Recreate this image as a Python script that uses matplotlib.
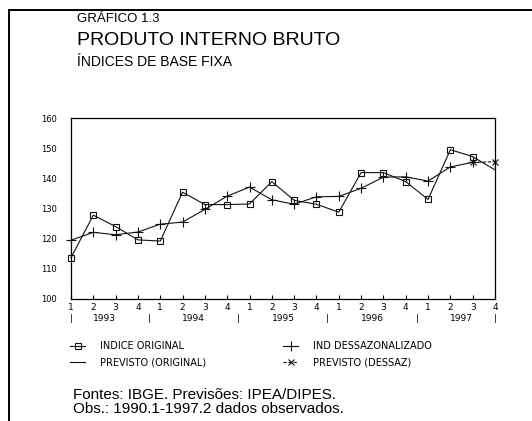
import matplotlib
matplotlib.use('Agg')
import matplotlib.pyplot as plt
from matplotlib.lines import Line2D
from matplotlib.transforms import blended_transform_factory
import numpy as np

# ---------------- data ----------------
quarter_labels = ['1', '2', '3', '4'] * 5
years = ['1993', '1994', '1995', '1996', '1997']
original = [113.7, 127.8, 124.0, 119.6, 119.2, 135.4, 131.3, 131.3, 131.5, 138.9,
            132.7, 131.4, 128.8, 141.9, 141.9, 138.9, 133.0, 149.5, 147.2]
dessaz = [119.5, 122.1, 121.3, 122.2, 124.8, 125.5, 129.7, 134.1, 137.1, 132.9,
          131.4, 133.9, 134.0, 136.7, 140.4, 140.5, 139.1, 143.8, 145.3]
prev_original = [147.2, 142.8]
prev_dessaz = [145.3, 145.5]
y_ticks = [100, 110, 120, 130, 140, 150, 160]
legend_labels = ['INDICE ORIGINAL', 'PREVISTO (ORIGINAL)',
                 'IND DESSAZONALIZADO', 'PREVISTO (DESSAZ)']

W, H = 532, 421
fig = plt.figure(figsize=(W / 100, H / 100), dpi=100)
fig.patch.set_facecolor('white')


def fx(px):
    return px / W


def fy(py):
    return 1 - py / H


# outer frame (left and top border)
fig.add_artist(Line2D([fx(9), fx(9)], [fy(10), 0], color='black', lw=1.4, transform=fig.transFigure))
fig.add_artist(Line2D([fx(9), 1], [fy(10), fy(10)], color='black', lw=1.4, transform=fig.transFigure))

# titles
title_font = ['Liberation Sans', 'DejaVu Sans']
fig.text(fx(77), fy(22), 'GRÁFICO 1.3', fontsize=9.5, family=title_font, va='baseline')
fig.text(fx(77), fy(45), 'PRODUTO INTERNO BRUTO', fontsize=14, family=title_font, va='baseline')
fig.text(fx(77), fy(66), 'ÍNDICES DE BASE FIXA', fontsize=10, family=title_font, va='baseline')
fig.text(fx(73), fy(399), 'Fontes: IBGE. Previsões: IPEA/DIPES.', fontsize=11, family=title_font, va='baseline')
fig.text(fx(73), fy(413), 'Obs.: 1990.1-1997.2 dados observados.', fontsize=11, family=title_font, va='baseline')

# axes
ax = fig.add_axes([fx(71), fy(299), fx(495) - fx(71), fy(118) - fy(299)])
n = len(quarter_labels)
x = np.arange(n)
lc = '#111111'
ax.plot(x[:len(original)], original, color=lc, lw=0.8, marker='s', ms=4.5,
        mfc='none', mec=lc, mew=0.8, clip_on=False, zorder=3)
ax.plot(x[:len(dessaz)], dessaz, color=lc, lw=0.8, marker='+', ms=7,
        mew=0.8, clip_on=False, zorder=3)
xp = x[len(original) - 1:len(original) - 1 + len(prev_original)]
ax.plot(xp, prev_original, color=lc, lw=0.8, clip_on=False, zorder=2)
xd = x[len(dessaz) - 1:len(dessaz) - 1 + len(prev_dessaz)]
ax.plot(xd, prev_dessaz, color=lc, lw=0.8, ls=(0, (3, 1.5)), marker='x', ms=5,
        mew=0.8, clip_on=False, zorder=2)

ax.set_xlim(0, n - 1)
ax.set_ylim(y_ticks[0], y_ticks[-1])
ax.set_yticks(y_ticks)
ax.set_yticklabels([str(v) for v in y_ticks], fontsize=6, family='DejaVu Sans')
ax.tick_params(axis='y', length=0, pad=10)
ax.set_xticks(x)
ax.set_xticklabels(quarter_labels, fontsize=6.5, family='DejaVu Sans')
ax.tick_params(axis='x', direction='in', length=3, width=0.8, pad=3)
for s in ax.spines.values():
    s.set_linewidth(0.9)
    s.set_color('black')

# year labels and separators below axis
trans = blended_transform_factory(ax.transData, fig.transFigure)
sep_pos = [0, 3.5, 7.5, 11.5, 15.5, n - 1]
for p in sep_pos:
    ax.text(p, fy(318.5), '|', transform=trans, ha='center', va='center',
            fontsize=6.5, family='DejaVu Sans')
for i, yr in enumerate(years):
    ax.text(4 * i + 1.5, fy(318.5), yr, transform=trans, ha='center', va='center',
            fontsize=6.5, family='DejaVu Sans')

# legend
h_orig = Line2D([], [], color=lc, lw=0.8, marker='s', ms=4.5, mfc='none', mec=lc, mew=0.8)
h_porig = Line2D([], [], color=lc, lw=0.8)
h_des = Line2D([], [], color=lc, lw=0.8, marker='+', ms=7, mew=0.8)
h_pdes = Line2D([], [], color=lc, lw=0.8, ls=(0, (3, 1.5)), marker='x', ms=5, mew=0.8)
common = dict(loc='upper left', frameon=False, handlelength=1.55, handletextpad=1.5,
              labelspacing=0.65, borderpad=0, borderaxespad=0,
              prop={'family': 'DejaVu Sans', 'size': 7})
fig.legend([h_orig, h_porig], legend_labels[:2], bbox_to_anchor=(fx(70), fy(341)), **common)
fig.legend([h_des, h_pdes], legend_labels[2:], bbox_to_anchor=(fx(283), fy(341)), **common)

fig.savefig('out.png', dpi=100, facecolor='white')
